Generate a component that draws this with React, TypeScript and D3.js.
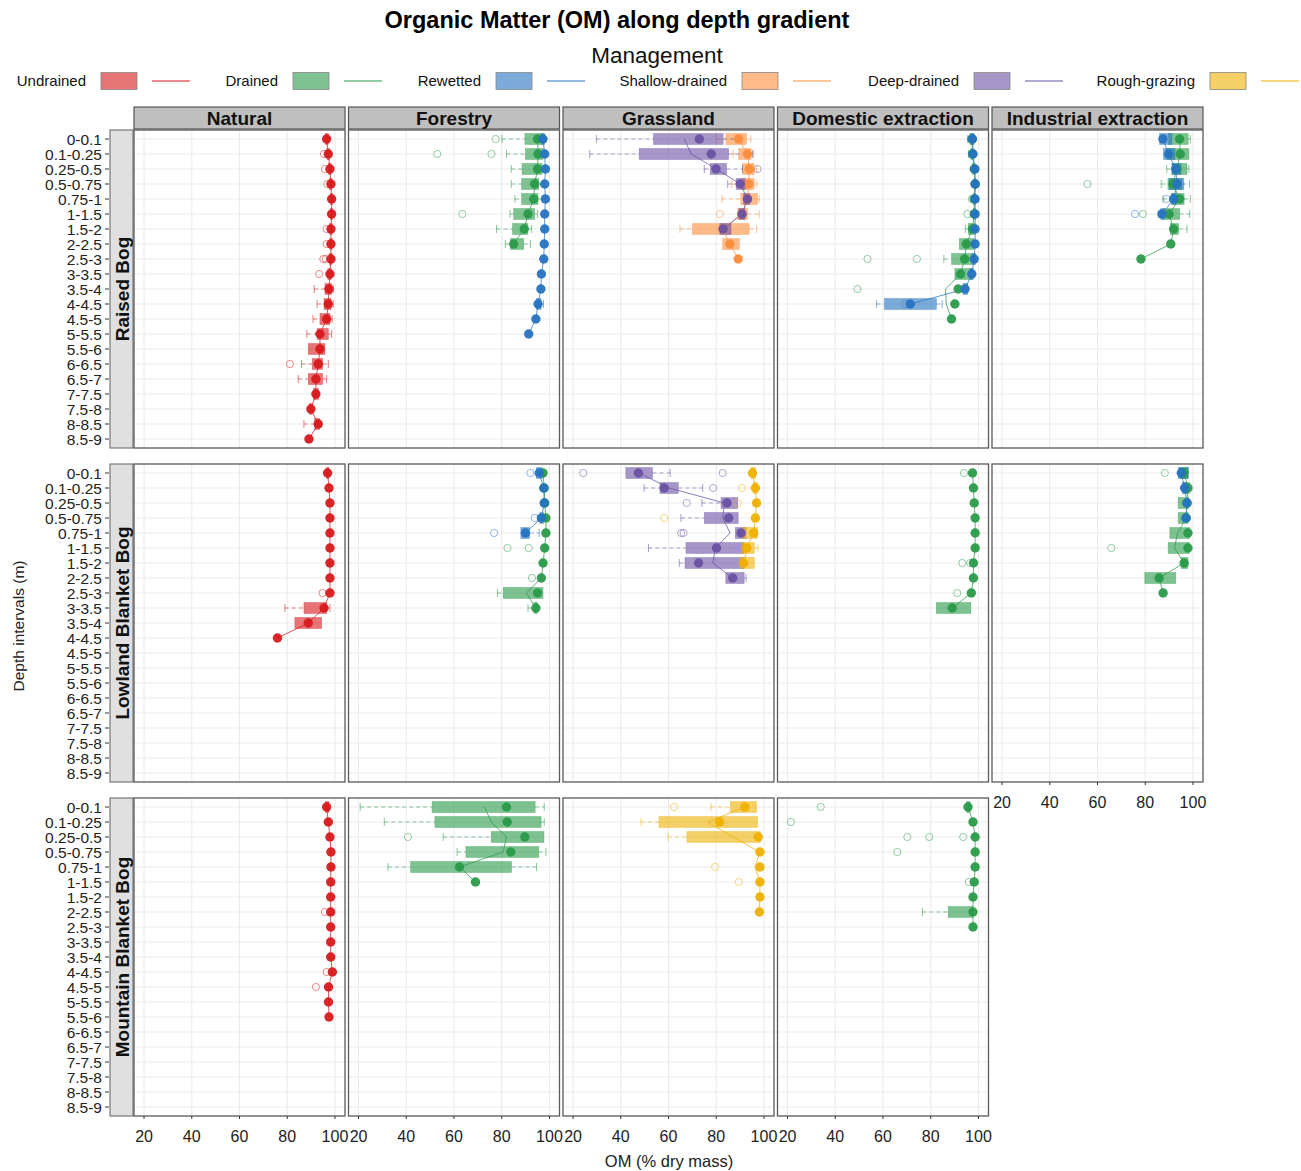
import React from "react";
import * as d3 from "d3";

const DEPTHS = ["0-0.1","0.1-0.25","0.25-0.5","0.5-0.75","0.75-1","1-1.5","1.5-2","2-2.5","2.5-3","3-3.5","3.5-4","4-4.5","4.5-5","5-5.5","5.5-6","6-6.5","6.5-7","7-7.5","7.5-8","8-8.5","8.5-9"];
const X_TICKS = [20, 40, 60, 80, 100];
const X_DOMAIN = [15.8, 104.2];
const BOGS = ["Raised Bog", "Lowland Blanket Bog", "Mountain Blanket Bog"];
const LAND_USES = ["Natural", "Forestry", "Grassland", "Domestic extraction", "Industrial extraction"];
const MANAGEMENTS = ["Undrained", "Drained", "Rewetted", "Shallow-drained", "Deep-drained", "Rough-grazing"];
const MGMT_COLORS = ["#d7191c", "#2a9a4a", "#2673c0", "#fd8d3c", "#6a51a3", "#eeb000"];

const _ = null;
// each row (one per depth interval, from the top): [median, q1, q3, whiskerLow, whiskerHigh, mean]
const RB_NAT_UND = [
  [96.5, 96.0, 97.2], [97.2, 96.6, 97.8], [97.9, 97.2, 98.4], [98.3, 97.6, 98.7], [98.6, 98.1, 99.0],
  [98.6, 98.1, 99.0], [98.3, 97.8, 98.8], [98.3, 97.8, 98.8], [98.3, 97.6, 98.8], [97.9, 97.0, 98.4],
  [97.5, 95.8, 98.6, 91.3, 99.3], [97.2, 95.4, 98.4, 92.5, 99.3], [96.5, 93.7, 97.9, 90.8, 98.8],
  [93.7, 92.6, 97.2, 88.2, 98.6], [93.7, 88.8, 95.8], [93.0, 90.5, 94.8, 86.0, 97.2],
  [92.0, 88.8, 94.8, 84.6, 96.5], [92.0, 91.0, 93.0], [89.9, 89.3, 90.5], [93.0, 91.5, 93.6, 87.0, 94.0], [89.1],
];
const RB_NAT_UND_OUT = [[1, 95.4], [2, 95.8], [3, 96.8], [6, 96.5], [7, 96.5], [8, 95.1], [8, 96.2], [9, 93.4], [15, 81.1]];

const RB_FOR_DRA = [
  [95.0, 89.7, 97.3, 80.1, 98.0], [95.2, 89.9, 97.3, 82.0, 98.0], [95.0, 88.5, 96.9, 84.0, 98.0],
  [93.8, 88.3, 95.5, 84.0, 97.5], [93.4, 88.3, 95.2, 85.5, 97.0], [91.0, 85.0, 93.8, 83.5, 95.0],
  [89.4, 84.5, 91.0, 77.8, 92.5], [85.0, 83.6, 89.2, 81.5, 92.0],
];
const RB_FOR_DRA_OUT = [[0, 77.5], [1, 53.0], [1, 75.7], [5, 63.5]];
const RB_FOR_REW = [
  [97.3, 96.6, 98.0], [98.0], [98.3], [98.0], [98.3], [98.0], [98.0], [97.8], [97.6], [96.6],
  [96.4], [95.2, 94.5, 96.5, _, 97.5], [94.3], [91.3],
];
const RB_FOR_REW_OUT = [];

const RB_GRA_DEEP = [
  [72.9, 53.7, 82.9, 29.8, 88.3, 66.6], [77.9, 47.7, 85.2, 27.0, 95.2, 69.5], [79.9, 77.5, 84.3, 75.0, 91.0, 80.0],
  [90.1, 88.3, 92.2, 84.8, 93.5], [93.1, 91.5, 94.0], [90.8, 89.5, 92.0], [82.9, 81.5, 86.2],
];
const RB_GRA_DEEP_OUT = [[2, 97.3]];
const RB_GRA_SHAL = [
  [89.4, 84.0, 92.7, 80.0, 94.5], [93.1, 89.4, 94.6, 87.0, 95.7], [93.8, 91.0, 95.9, _, 97.0],
  [93.6, 90.8, 95.9, 86.5, 97.0], [93.1, 90.3, 97.3, 82.4, 98.0], [90.8, 89.0, 93.1, _, 98.0],
  [82.7, 70.0, 93.8, 64.8, 96.9], [85.7, 82.7, 89.7], [89.2],
];
const RB_GRA_SHAL_OUT = [[5, 81.5]];

const RB_DOM_DRA = [
  [97.2, 96.5, 97.8, 95.5, 98.5], [97.5, 96.8, 98.0, 95.8, 98.5], [98.2, 97.5, 98.6], [98.6, 98.2, 98.9],
  [98.2, 97.8, 98.7], [98.2, 97.8, 98.7], [97.5, 95.7, 98.6, 94.5, 99.0], [94.9, 92.0, 98.2],
  [94.2, 88.7, 98.2, 85.5, 99.0], [92.5, 90.1, 97.5], [91.5, _, _, _, _, 86.2], [90.1, _, _, _, _, 86.5], [88.7],
];
const RB_DOM_DRA_OUT = [[4, 97.2], [5, 95.4], [8, 53.5], [8, 74.2], [10, 49.3]];
const RB_DOM_REW = [
  [97.5, 96.8, 98.2], [97.7], [98.5], [98.6], [98.6], [98.6], [98.6], [98.6],
  [98.2, 97.5, 98.8], [97.2, 96.5, 97.8], [94.4, 93.5, 95.5], [71.4, 60.6, 82.4, 57.3, 84.8],
];
const RB_DOM_REW_OUT = [[11, 69.3]];

const RB_IND_DRA = [
  [94.4, 89.8, 98.0, _, 98.9], [94.7, 89.0, 98.3], [93.3, 91.2, 97.5, 89.0, 98.3], [91.6, 89.5, 95.4, 86.7, 98.6],
  [94.4, 91.2, 96.3, 87.4, 98.9], [90.0, 87.6, 94.4, 85.5, 98.6], [91.9, 90.5, 94.0, _, 97.5], [90.7], [78.2],
];
const RB_IND_DRA_OUT = [[3, 55.8], [5, 79.0]];
const RB_IND_REW = [
  [87.4, 86.0, 91.2], [89.8, 87.6, 92.5], [92.8, 91.2, 95.0], [93.3, 90.2, 96.2], [91.9, 91.0, 93.0], [87.0, 86.5, 88.0],
];
const RB_IND_REW_OUT = [[4, 89.0], [5, 75.7]];

const LB_NAT_UND = [
  [96.9, 96.4, 97.5], [97.5], [97.9], [97.9], [97.9], [97.9], [97.9], [97.9], [97.9],
  [95.4, 87.0, 96.5, 79.0, 97.9], [88.8, 83.2, 94.4], [75.9],
];
const LB_NAT_UND_OUT = [[8, 94.8]];

const LB_FOR_REW = [[95.7, 94.5, 97.0], [97.6], [97.8], [96.6, 96.0, 97.5], [89.9, 88.0, 91.7, _, 95.7]];
const LB_FOR_REW_OUT = [[0, 92.0], [3, 93.8], [4, 76.8]];
const LB_FOR_DRA = [
  [97.3], [97.8], [98.0], [98.5], [98.5], [98.0], [97.3], [96.6],
  [95.0, 80.6, 97.3, 78.2, _, 90.3], [94.3, 93.5, 95.0, 91.0],
];
const LB_FOR_DRA_OUT = [[5, 82.4], [5, 91.3], [7, 92.7]];

const LB_GRA_DEEP = [
  [47.4, 42.1, 53.3, _, 60.7, 47.7], [58.2, 56.4, 64.1, 49.8, 74.3, 60.3], [84.5, 82.0, 89.0, 74.0, _, 83.4],
  [85.2, 75.0, 89.2, 65.2, _, 82.7], [90.4, 88.0, 92.5, _, _, 85.8], [80.1, 67.3, 91.7, 51.6, _, 79.6],
  [72.6, 66.9, 91.7, 64.5, _, 78.6], [86.9, 84.0, 91.7, _, 92.5],
];
const LB_GRA_DEEP_OUT = [[0, 24.3], [0, 82.7], [1, 78.7], [2, 67.6], [4, 65.3], [4, 66.3]];
const LB_GRA_ROUGH = [
  [95.2, 94.5, 96.5], [96.4, 95.5, 97.2], [96.9], [96.4], [95.7, 90.8, 97.3], [92.9, 90.5, 96.0, _, 97.5], [91.5, 90.0, 96.0],
];
const LB_GRA_ROUGH_OUT = [[1, 90.8], [2, 89.0], [3, 58.2]];

const LB_DOM_DRA = [[97.5], [97.9], [98.2], [98.6], [98.6], [98.6], [97.9], [97.9], [97.0], [89.0, 82.3, 96.8]];
const LB_DOM_DRA_OUT = [[0, 93.9], [6, 93.2], [6, 96.5], [8, 91.1]];

const LB_IND_REW = [[95.1, 93.8, 98.0], [96.5, 95.5, 97.5], [97.5], [97.0]];
const LB_IND_REW_OUT = [];
const LB_IND_DRA = [
  [96.3, 94.5, 98.0], [97.9, 96.0, 98.6], [97.5, 93.8, 98.3], [97.2, 93.8, 98.0],
  [97.9, 90.3, 98.6, _, _, 93.5], [97.9, 89.6, 98.6, _, _, 92.3], [96.3, 95.0, 97.9], [85.8, 79.8, 92.8], [87.5],
];
const LB_IND_DRA_OUT = [[0, 88.2], [5, 65.8]];

const MB_NAT_UND = [
  [96.5, 96.0, 97.5], [97.2], [97.9], [98.3], [98.3], [98.2], [98.2], [98.2], [98.2], [98.2], [98.2],
  [98.9], [97.3], [97.3], [97.5],
];
const MB_NAT_UND_OUT = [[7, 95.8], [11, 96.5], [12, 92.0]];

const MB_FOR_DRA = [
  [82.0, 50.8, 94.0, 20.7, 97.8, 72.8], [82.3, 52.0, 96.5, 30.8, 97.8, 75.6], [89.7, 75.6, 97.7, 55.5, _, 82.0],
  [83.8, 65.0, 95.5, 61.3, 98.5, 80.6], [62.3, 41.8, 84.1, 32.3, 94.6], [69.0],
];
const MB_FOR_DRA_OUT = [[2, 40.7]];

const MB_GRA_ROUGH = [
  [92.0, 85.9, 96.9, 77.8, _, 92.0], [81.4, 56.0, 97.3, 48.5, _, 76.4], [97.6, 67.7, 98.6, 59.8, _, 87.0],
  [98.3], [98.3, _, _, _, _, 96.2], [98.3], [98.3], [98.1],
];
const MB_GRA_ROUGH_OUT = [[0, 62.3], [4, 79.5], [5, 89.4]];

const MB_DOM_DRA = [
  [95.6, 95.0, 96.5], [97.7], [98.6], [98.6], [98.6], [98.2], [97.7], [97.7, 87.3, 97.7, 76.5], [97.7],
];
const MB_DOM_DRA_OUT = [[0, 33.9], [1, 21.4], [2, 70.2], [2, 79.4], [2, 93.6], [3, 66.0], [5, 96.0]];

const SERIES = [
  { bog: 0, use: 0, mgmt: 0, stats: RB_NAT_UND, out: RB_NAT_UND_OUT },
  { bog: 0, use: 1, mgmt: 1, stats: RB_FOR_DRA, out: RB_FOR_DRA_OUT },
  { bog: 0, use: 1, mgmt: 2, stats: RB_FOR_REW, out: RB_FOR_REW_OUT },
  { bog: 0, use: 2, mgmt: 3, stats: RB_GRA_SHAL, out: RB_GRA_SHAL_OUT },
  { bog: 0, use: 2, mgmt: 4, stats: RB_GRA_DEEP, out: RB_GRA_DEEP_OUT },
  { bog: 0, use: 3, mgmt: 1, stats: RB_DOM_DRA, out: RB_DOM_DRA_OUT },
  { bog: 0, use: 3, mgmt: 2, stats: RB_DOM_REW, out: RB_DOM_REW_OUT },
  { bog: 0, use: 4, mgmt: 1, stats: RB_IND_DRA, out: RB_IND_DRA_OUT },
  { bog: 0, use: 4, mgmt: 2, stats: RB_IND_REW, out: RB_IND_REW_OUT },
  { bog: 1, use: 0, mgmt: 0, stats: LB_NAT_UND, out: LB_NAT_UND_OUT },
  { bog: 1, use: 1, mgmt: 1, stats: LB_FOR_DRA, out: LB_FOR_DRA_OUT },
  { bog: 1, use: 1, mgmt: 2, stats: LB_FOR_REW, out: LB_FOR_REW_OUT },
  { bog: 1, use: 2, mgmt: 4, stats: LB_GRA_DEEP, out: LB_GRA_DEEP_OUT },
  { bog: 1, use: 2, mgmt: 5, stats: LB_GRA_ROUGH, out: LB_GRA_ROUGH_OUT },
  { bog: 1, use: 3, mgmt: 1, stats: LB_DOM_DRA, out: LB_DOM_DRA_OUT },
  { bog: 1, use: 4, mgmt: 1, stats: LB_IND_DRA, out: LB_IND_DRA_OUT },
  { bog: 1, use: 4, mgmt: 2, stats: LB_IND_REW, out: LB_IND_REW_OUT },
  { bog: 2, use: 0, mgmt: 0, stats: MB_NAT_UND, out: MB_NAT_UND_OUT },
  { bog: 2, use: 1, mgmt: 1, stats: MB_FOR_DRA, out: MB_FOR_DRA_OUT },
  { bog: 2, use: 2, mgmt: 5, stats: MB_GRA_ROUGH, out: MB_GRA_ROUGH_OUT },
  { bog: 2, use: 3, mgmt: 1, stats: MB_DOM_DRA, out: MB_DOM_DRA_OUT },
];

// layout
const W = 1301, H = 1171;
const FONT = "'Liberation Sans', Arial, Helvetica, sans-serif";
const COL_X = [134, 348.5, 563, 777.5, 992];
const PANEL_W = 211;
const ROW_Y = [130, 464, 798];
const PANEL_H = 318;
const LEGEND_BOX_X = [101, 293, 496, 742, 974, 1210];

const hasPanel = (r, c) => !(r === 2 && c === 4);

export default function App() {
  const panels = [];
  BOGS.forEach((bog, r) => {
    LAND_USES.forEach((use, c) => {
      if (!hasPanel(r, c)) return;
      const x = d3.scaleLinear().domain(X_DOMAIN).range([COL_X[c], COL_X[c] + PANEL_W]);
      const y = d3.scalePoint().domain(DEPTHS).range([ROW_Y[r], ROW_Y[r] + PANEL_H]).padding(0.6);
      const series = SERIES.filter((s) => s.bog === r && s.use === c);
      const bh = 11;
      const boxes = [];
      const tops = [];
      series.forEach((s, si) => {
        const col = MGMT_COLORS[s.mgmt];
        s.stats.forEach((row, i) => {
          const yy = y(DEPTHS[i]);
          const [med, q1, q3, wl, wh] = row;
          const k = `${si}-${i}`;
          if (wl != null && q1 != null) {
            boxes.push(<line key={"wl" + k} x1={x(wl)} x2={x(q1)} y1={yy} y2={yy} stroke={col} strokeOpacity={0.55} strokeWidth={1} strokeDasharray="4,3" />);
            boxes.push(<line key={"cl" + k} x1={x(wl)} x2={x(wl)} y1={yy - 4} y2={yy + 4} stroke={col} strokeOpacity={0.55} strokeWidth={1} />);
          }
          if (wh != null && q3 != null) {
            boxes.push(<line key={"wh" + k} x1={x(q3)} x2={x(wh)} y1={yy} y2={yy} stroke={col} strokeOpacity={0.55} strokeWidth={1} strokeDasharray="4,3" />);
            boxes.push(<line key={"ch" + k} x1={x(wh)} x2={x(wh)} y1={yy - 4} y2={yy + 4} stroke={col} strokeOpacity={0.55} strokeWidth={1} />);
          }
          if (q1 != null && q3 != null) {
            boxes.push(<rect key={"b" + k} x={x(q1)} y={yy - bh / 2} width={Math.max(0.5, x(q3) - x(q1))} height={bh} fill={col} fillOpacity={0.6} stroke={col} strokeOpacity={0.5} strokeWidth={0.6} />);
          }
        });
        s.out.forEach(([di, v], oi) => {
          boxes.push(<circle key={`o${si}-${oi}`} cx={x(v)} cy={y(DEPTHS[di])} r={3.6} fill="none" stroke={col} strokeOpacity={0.5} strokeWidth={1} />);
        });
      });
      series.forEach((s, si) => {
        const col = MGMT_COLORS[s.mgmt];
        const pts = s.stats.map((row, i) => [x(row[5] != null ? row[5] : row[0]), y(DEPTHS[i])]);
        const path = d3.line()(pts);
        tops.push(<path key={"l" + si} d={path} fill="none" stroke={col} strokeOpacity={0.75} strokeWidth={1} />);
      });
      series.forEach((s, si) => {
        const col = MGMT_COLORS[s.mgmt];
        s.stats.forEach((row, i) => {
          tops.push(<circle key={`d${si}-${i}`} cx={x(row[0])} cy={y(DEPTHS[i])} r={4.7} fill={col} fillOpacity={0.95} />);
        });
      });
      const x0 = COL_X[c], y0 = ROW_Y[r];
      const isBottom = r === 2 || (r === 1 && c === 4);
      panels.push(
        <g key={`p${r}-${c}`}>
          <rect x={x0} y={y0} width={PANEL_W} height={PANEL_H} fill="#fff" />
          {DEPTHS.map((d) => (
            <line key={"gy" + d} x1={x0} x2={x0 + PANEL_W} y1={y(d)} y2={y(d)} stroke="#ebebeb" strokeWidth={1.1} />
          ))}
          {X_TICKS.map((t) => (
            <line key={"gx" + t} x1={x(t)} x2={x(t)} y1={y0} y2={y0 + PANEL_H} stroke="#ebebeb" strokeWidth={1.1} />
          ))}
          {boxes}
          {tops}
          <rect x={x0} y={y0} width={PANEL_W} height={PANEL_H} fill="none" stroke="#5a5a5a" strokeWidth={1.3} />
          {isBottom &&
            X_TICKS.map((t) => (
              <g key={"xt" + t}>
                <line x1={x(t)} x2={x(t)} y1={y0 + PANEL_H} y2={y0 + PANEL_H + 3} stroke="#333" strokeWidth={1} />
                <text x={x(t)} y={y0 + PANEL_H + 25.5} textAnchor="middle" fontSize={16} fill="#222" fontFamily={FONT}>{t}</text>
              </g>
            ))}
        </g>
      );
    });
  });

  return (
    <svg width={W} height={H} style={{ position: "absolute", left: 0, top: 0, background: "#fff" }} fontFamily={FONT}>
      <rect x={0} y={0} width={W} height={H} fill="#fff" />
      <text x={617} y={28} textAnchor="middle" fontSize={23.5} fontWeight="bold" fill="#000">Organic Matter (OM) along depth gradient</text>
      <text x={657} y={63} textAnchor="middle" fontSize={22.5} fill="#111">Management</text>
      {MANAGEMENTS.map((m, i) => {
        const bx = LEGEND_BOX_X[i];
        const col = MGMT_COLORS[i];
        return (
          <g key={m}>
            <text x={bx - 15} y={86} textAnchor="end" fontSize={15} fill="#111">{m}</text>
            <rect x={bx} y={72.5} width={36} height={17} fill={col} fillOpacity={0.6} stroke="#888" strokeWidth={0.8} />
            <line x1={bx + 51} x2={bx + 89} y1={81} y2={81} stroke={col} strokeWidth={1.2} />
          </g>
        );
      })}
      {LAND_USES.map((u, c) => (
        <g key={u}>
          <rect x={COL_X[c]} y={107} width={PANEL_W} height={22} fill="#bfbfbf" stroke="#555" strokeWidth={1.2} />
          <text x={COL_X[c] + PANEL_W / 2} y={124.5} textAnchor="middle" fontSize={19} fontWeight="bold" fill="#111">{u}</text>
        </g>
      ))}
      {BOGS.map((b, r) => {
        const y = d3.scalePoint().domain(DEPTHS).range([ROW_Y[r], ROW_Y[r] + PANEL_H]).padding(0.6);
        const cy = ROW_Y[r] + PANEL_H / 2;
        return (
          <g key={b}>
            <rect x={110} y={ROW_Y[r]} width={23} height={PANEL_H} fill="#e0e0e0" stroke="#777" strokeWidth={1.2} />
            <text transform={`translate(122,${cy}) rotate(-90)`} textAnchor="middle" dy="0.35em" fontSize={19} fontWeight="bold" fill="#111">{b}</text>
            {DEPTHS.map((d) => (
              <g key={d}>
                <line x1={105} x2={109} y1={y(d)} y2={y(d)} stroke="#333" strokeWidth={1} />
                <text x={102} y={y(d)} dy="0.38em" textAnchor="end" fontSize={15.5} fill="#222">{d}</text>
              </g>
            ))}
          </g>
        );
      })}
      {panels}
      <text x={669} y={1167} textAnchor="middle" fontSize={16.5} fill="#222">OM (% dry mass)</text>
      <text transform="translate(19,626) rotate(-90)" textAnchor="middle" dy="0.35em" fontSize={15.5} fill="#222">Depth intervals (m)</text>
    </svg>
  );
}
